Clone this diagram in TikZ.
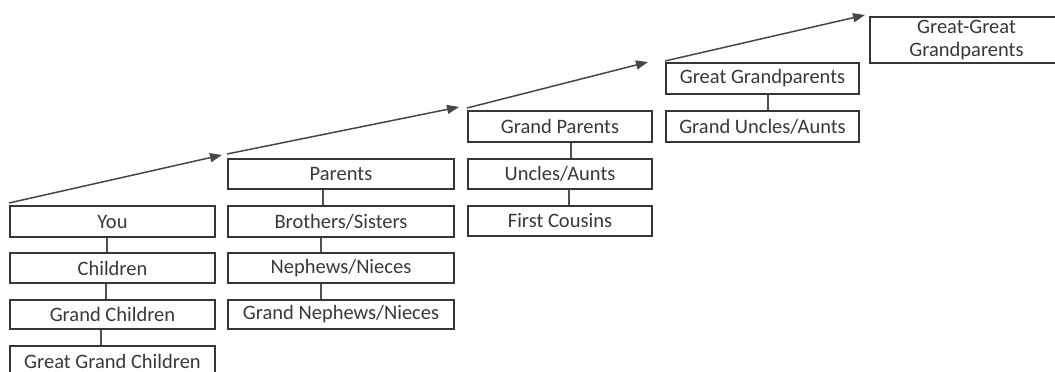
\documentclass[tikz,border=0pt]{standalone}
\usepackage{fontspec}
\setmainfont{Carlito}
\usetikzlibrary{arrows.meta,calc}
\definecolor{boxline}{HTML}{363636}
\definecolor{txt}{HTML}{383838}
\definecolor{conn}{HTML}{505050}
\tikzset{
  famBox/.style={draw=boxline, line width=2pt, rectangle, inner sep=0pt,
    text=txt, font=\fontsize{20.5}{22}\selectfont, align=center, minimum height=30pt},
  col1/.style={famBox, minimum width=205pt},
  col2/.style={famBox, minimum width=226pt},
  col3/.style={famBox, minimum width=184pt},
  col4/.style={famBox, minimum width=193pt},
  linkLine/.style={draw=conn, line width=1.6pt},
  stepArrow/.style={draw=black!72, line width=1.5pt, -{Triangle[length=12pt,width=9pt]}}
}
\begin{document}
\begin{tikzpicture}[x=1pt,y=-1pt]
\useasboundingbox (0,0) rectangle (1055,372);
% column 1
\node[col1, minimum height=31pt] (you) at (112.5,221.5) {You};
\node[col1] (children) at (112.5,268) {Children};
\node[col1, minimum height=29pt] (gchildren) at (112.5,314.5) {Grand Children};
\node[col1, minimum height=31pt] (ggchildren) at (112.5,361) {Great Grand Children};
% column 2
\node[col2] (parents) at (341,174) {Parents};
\node[col2, minimum height=31pt] (siblings) at (341,221.5) {Brothers/Sisters};
\node[col2] (nephews) at (341,268) {Nephews/Nieces};
\node[col2, minimum height=29pt] (gnephews) at (341,314.5) {Grand Nephews/Nieces};
% column 3
\node[col3, minimum height=31pt] (gparents) at (560,126.5) {Grand Parents};
\node[col3] (uncles) at (560,174) {Uncles/Aunts};
\node[col3] (cousins) at (560,221) {First Cousins};
% column 4
\node[col4, minimum height=31pt] (ggparents) at (762.5,78.5) {Great Grandparents};
\node[col4, minimum height=31pt] (guncles) at (762.5,126.5) {Grand Uncles/Aunts};
% column 5
\node[col4, minimum height=46pt] (gggparents) at (966.5,40) {Great-Great\\Grandparents};
% vertical links
\draw[linkLine] ([xshift=-5.5pt]you.south) -- ([xshift=-5.5pt]children.north);
\draw[linkLine] ([xshift=-6.5pt]children.south) -- ([xshift=-6.5pt]gchildren.north);
\draw[linkLine] ([xshift=-11.5pt]gchildren.south) -- ([xshift=-11.5pt]ggchildren.north);
\draw[linkLine] ([xshift=-18pt]parents.south) -- ([xshift=-18pt]siblings.north);
\draw[linkLine] ([xshift=-20pt]siblings.south) -- ([xshift=-20pt]nephews.north);
\draw[linkLine] ([xshift=-20pt]nephews.south) -- ([xshift=-20pt]gnephews.north);
\draw[linkLine] ([xshift=11pt]gparents.south) -- ([xshift=11pt]uncles.north);
\draw[linkLine] ([xshift=9pt]uncles.south) -- ([xshift=9pt]cousins.north);
\draw[linkLine] ([xshift=5.5pt]ggparents.south) -- ([xshift=5.5pt]guncles.north);
% generation arrows
\draw[stepArrow] ($(you.north west)+(0,-2)$) -- ($(parents.north west)+(-5,-3)$);
\draw[stepArrow] ($(parents.north west)+(0,-4)$) -- ($(gparents.north west)+(-8,-3)$);
\draw[stepArrow] ($(gparents.north west)+(0,-2)$) -- ($(ggparents.north west)+(-17,0)$);
\draw[stepArrow] ($(ggparents.north west)+(0,-1)$) -- ($(gggparents.north west)+(-4,-1)$);
\end{tikzpicture}
\end{document}
